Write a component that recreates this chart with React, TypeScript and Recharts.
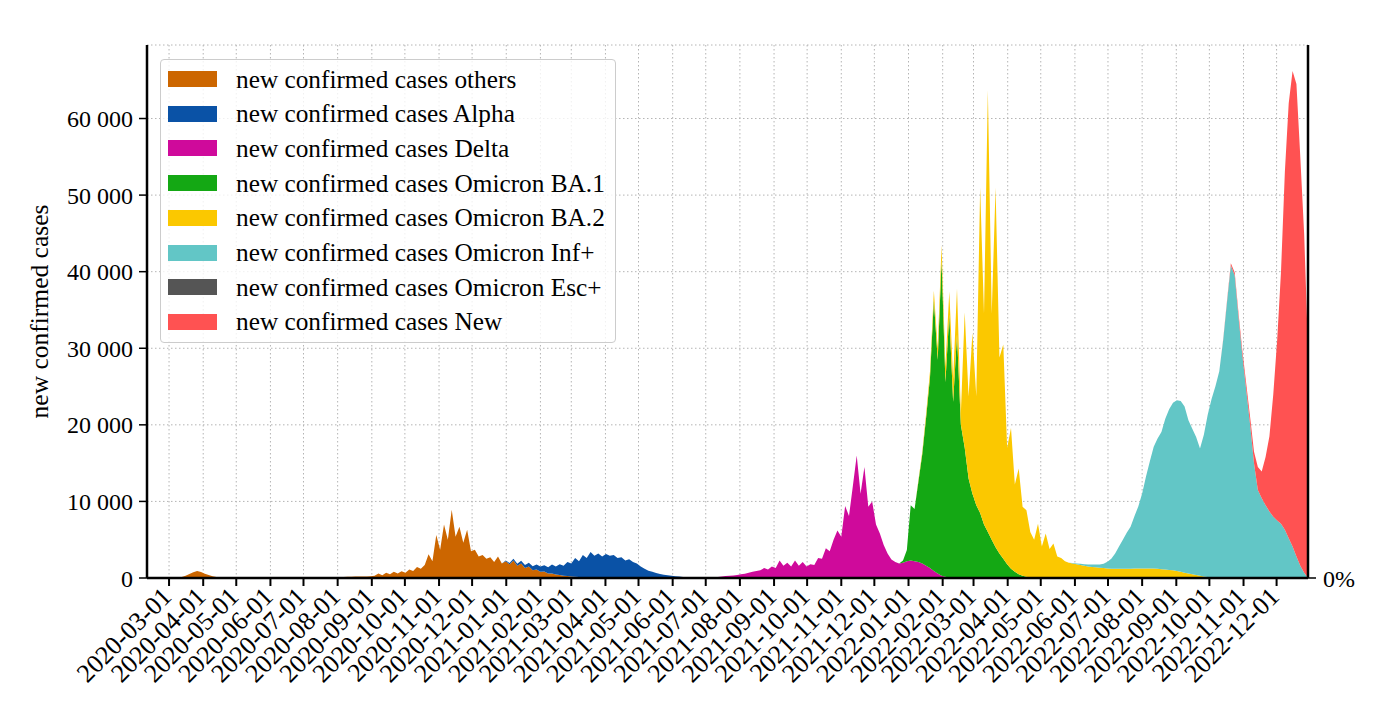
import { AreaChart, Area, XAxis, YAxis, CartesianGrid } from "recharts";

/* ================= DATA ================= */

// samples every 3.5 days starting at FIRST_SAMPLE
const FIRST_SAMPLE = "2020-02-10";
const SAMPLE_DAYS = 3.5;
const SAMPLE_COUNT = 302;

const monthTicks = [
  "2020-03-01", "2020-04-01", "2020-05-01", "2020-06-01", "2020-07-01", "2020-08-01",
  "2020-09-01", "2020-10-01", "2020-11-01", "2020-12-01", "2021-01-01", "2021-02-01",
  "2021-03-01", "2021-04-01", "2021-05-01", "2021-06-01", "2021-07-01", "2021-08-01",
  "2021-09-01", "2021-10-01", "2021-11-01", "2021-12-01", "2022-01-01", "2022-02-01",
  "2022-03-01", "2022-04-01", "2022-05-01", "2022-06-01", "2022-07-01", "2022-08-01",
  "2022-09-01", "2022-10-01", "2022-11-01", "2022-12-01",
];

const countTicks = [0, 10000, 20000, 30000, 40000, 50000, 60000];
const countMax = 69600;

// sample 0 onwards
const othersValues = [
  0, 0, 0, 0, 0, 0, 0, 0,
  30, 120, 300, 520, 760, 920, 780, 560, 380, 230, 140, 90,
  60, 50, 40, 40, 30, 30, 30, 30, 30, 30,
  30, 30, 30, 30, 40, 40, 40, 40, 50, 50, 50, 50, 60, 60, 60, 70, 70, 80, 80, 90,
  100, 120, 150, 150, 180, 180, 200, 200, 220,
  300, 600, 350, 700, 500, 800, 600, 870, 700, 1100, 900, 1440, 1200,
  1700, 3100, 2200, 5600, 3700, 7000, 5000, 8900, 5400, 6700, 4600, 6300, 3500, 3700,
  2800, 3000, 2500, 2700, 2100, 2800, 1900,
  2200, 1800, 2300, 1600, 1900, 1300, 1500, 1000, 1100, 800, 850, 600, 600, 450, 400,
  300, 250, 200, 150, 120, 100, 80, 60, 50, 40, 30, 20, 10,
];

// sample 93 onwards
const alphaValues = [
  100, 150, 200, 250, 350, 400, 500, 550, 650, 700, 800, 800, 1150, 1050, 1400, 1300,
  1850, 1700, 2450, 2080, 2900, 2520, 3340, 2850, 3160, 2770, 3130, 2890, 3000, 2600,
  2700, 2300, 2450, 2100, 1900, 1500, 1200, 950, 800, 650, 520, 430, 370, 300, 240,
  190, 140, 100, 70, 40, 20,
];

// sample 144 onwards
const deltaValues = [
  0, 30, 60, 90, 130, 180, 260, 300, 330, 400, 500, 550, 700, 800, 900, 1000,
  1300, 1100, 1500, 1300, 2300, 1600, 2000, 1500, 2300, 1600, 2100, 1500, 1800, 1700,
  2600, 2500, 3900, 3500, 5000, 6200, 5400, 9400, 8100, 12000, 16000, 11000, 14500,
  9300, 10000, 7000, 5800, 4300, 3200, 2400, 2100, 1900, 2000, 2200, 2300, 2200, 2100,
  1900, 1600, 1300, 900, 600, 300, 150, 50,
];

// sample 196 onwards
const ba1Values = [
  300, 1450, 7200, 6800, 10500, 14300, 19400, 24900, 35400, 27900, 41200, 25450,
  34350, 23000, 31800, 20000, 17000, 13000, 11000, 9500, 8500, 7000, 6000, 5000,
  4000, 3200, 2500, 1800, 1200, 800, 500, 300, 150, 60,
];

// sample 200 onwards
const ba2Values = [
  200, 300, 500, 800, 1200, 1500, 2000, 2000, 3000, 3000, 6000, 1500, 17700, 10700,
  21000, 14200, 42500, 27500, 57700, 29500, 47000, 25600, 28000, 15200, 18400, 11400,
  13800, 9000, 8700, 5940, 5000, 7100, 4100, 5800, 3800, 4500, 2800, 2600, 2200, 2000,
  1900, 1800, 1700, 1600, 1500, 1450, 1400, 1350, 1300, 1250, 1200, 1200, 1200, 1200,
  1200, 1200, 1250, 1250, 1250, 1250, 1250, 1250, 1200, 1150, 1100, 1050, 1000, 900,
  800, 700, 600, 500, 400, 300, 200, 130, 80, 40,
];

// sample 240 onwards
const infValues = [
  50, 100, 150, 200, 250, 300, 350, 400, 550, 880, 1300, 2000, 2900, 3800, 4700, 5500,
  6800, 8100, 9800, 12000, 14000, 15900, 17000, 17900, 19700, 21000, 21900, 22300,
  22300, 21700, 20000, 19000, 18000, 16600, 18500, 21200, 23300, 25000, 27000, 31000,
  36000, 40800, 39500, 34000, 29000, 24500, 20000, 15000, 11500, 10400, 9500, 8700,
  8000, 7500, 7100, 6300, 5200, 4100, 2800, 1600, 700,
];

// nothing visible for this one
const escValues: number[] = [];

// sample 279 onwards
const newValues = [
  100, 200, 300, 400, 500, 600, 800, 1000, 1500, 3000, 3500, 6300, 9800, 16000, 23500,
  32900, 46700, 56800, 62100, 61700, 53400, 44300, 30000,
];

const SERIES = [
  { key: "others", label: "new confirmed cases others", color: "#cc6600", from: 0, values: othersValues },
  { key: "alpha", label: "new confirmed cases Alpha", color: "#0a52a6", from: 93, values: alphaValues },
  { key: "delta", label: "new confirmed cases Delta", color: "#cf0a9b", from: 144, values: deltaValues },
  { key: "ba1", label: "new confirmed cases Omicron BA.1", color: "#14a814", from: 196, values: ba1Values },
  { key: "ba2", label: "new confirmed cases Omicron BA.2", color: "#fbc800", from: 200, values: ba2Values },
  { key: "inf", label: "new confirmed cases Omicron Inf+", color: "#62c6c6", from: 240, values: infValues },
  { key: "esc", label: "new confirmed cases Omicron Esc+", color: "#555555", from: 0, values: escValues },
  { key: "new", label: "new confirmed cases New", color: "#ff5252", from: 279, values: newValues },
];

const DAY_MS = 86400000;
const t0 = Date.parse(FIRST_SAMPLE);

const data = Array.from({ length: SAMPLE_COUNT }, (_, i) => {
  const row: Record<string, number> = { t: t0 + i * SAMPLE_DAYS * DAY_MS };
  SERIES.forEach((s) => {
    row[s.key] = s.values[i - s.from] ?? 0;
  });
  return row;
});

const xTicks = monthTicks.map((d) => Date.parse(d));
const xDomain = [t0, t0 + (SAMPLE_COUNT - 1) * SAMPLE_DAYS * DAY_MS];

/* ================= HELPERS ================= */

const FONT = "'Liberation Serif', 'Times New Roman', serif";

const fmtCount = (v: number) => String(v).replace(/\B(?=(\d{3})+(?!\d))/g, " ");
const fmtDate = (v: number) => new Date(v).toISOString().slice(0, 10);

const DateTick = (props: any) => {
  const { x, y, payload } = props;
  const ax = x + 4;
  const ay = y + 10;
  return (
    <text
      x={ax}
      y={ay}
      transform={`rotate(-45, ${ax}, ${ay})`}
      textAnchor="end"
      fontFamily={FONT}
      fontSize={26}
      fill="#000"
    >
      {fmtDate(payload.value)}
    </text>
  );
};

/* ================= COMPONENT ================= */

export default function App() {
  return (
    <div style={styles.page}>
      <AreaChart
        width={1384}
        height={710}
        data={data}
        margin={{ top: 45, right: 0, bottom: 0, left: 0 }}
      >
        <XAxis
          xAxisId="date"
          dataKey="t"
          type="number"
          scale="time"
          domain={xDomain}
          allowDataOverflow
          ticks={xTicks}
          interval={0}
          height={132}
          tick={<DateTick />}
          tickSize={8}
          tickLine={{ stroke: "#000", strokeWidth: 2 }}
          axisLine={{ stroke: "#000", strokeWidth: 2.5 }}
        />
        <XAxis
          xAxisId="frame"
          dataKey="t"
          type="number"
          orientation="top"
          domain={xDomain}
          allowDataOverflow
          height={0}
          tick={false}
          tickLine={false}
          axisLine={{ stroke: "#000", strokeWidth: 2.5 }}
        />
        <YAxis
          yAxisId="count"
          type="number"
          domain={[0, countMax]}
          allowDataOverflow
          ticks={countTicks}
          interval={0}
          width={147}
          tickFormatter={fmtCount}
          tickSize={8}
          tickMargin={6}
          tick={{ fill: "#000", fontFamily: FONT, fontSize: 24 }}
          tickLine={{ stroke: "#000", strokeWidth: 1.5 }}
          axisLine={{ stroke: "#000", strokeWidth: 2.5 }}
          label={{
            content: (p: any) => {
              const vb = p.viewBox;
              const cy = vb.y + vb.height / 2;
              return (
                <text
                  x={48}
                  y={cy}
                  transform={`rotate(-90, 48, ${cy})`}
                  textAnchor="middle"
                  fontFamily={FONT}
                  fontSize={25.5}
                  fill="#000"
                >
                  new confirmed cases
                </text>
              );
            },
          }}
        />
        <YAxis
          yAxisId="pct"
          orientation="right"
          type="number"
          domain={[0, countMax]}
          allowDataOverflow
          ticks={[0]}
          interval={0}
          width={76}
          tickFormatter={() => "0%"}
          tickSize={8}
          tickMargin={7}
          tick={{ fill: "#000", fontFamily: FONT, fontSize: 24 }}
          tickLine={{ stroke: "#000", strokeWidth: 1.5 }}
          axisLine={{ stroke: "#000", strokeWidth: 2.5 }}
        />

        {SERIES.map((s) => (
          <Area
            key={s.key}
            xAxisId="date"
            yAxisId="count"
            type="linear"
            dataKey={s.key}
            name={s.label}
            stackId="cases"
            stroke="none"
            fill={s.color}
            fillOpacity={1}
            dot={false}
            activeDot={false}
            isAnimationActive={false}
          />
        ))}

        <CartesianGrid
          xAxisId="date"
          yAxisId="count"
          stroke="#b4b4b4"
          strokeWidth={1}
          strokeDasharray="1.5 2.5"
        />
      </AreaChart>

      {/* legend */}
      <div style={styles.legend}>
        {SERIES.map((s, k) => (
          <div key={s.key} style={{ ...styles.row, top: 2 + k * 34.7 }}>
            <span style={{ ...styles.swatch, background: s.color }} />
            <span style={styles.label}>{s.label}</span>
          </div>
        ))}
      </div>
    </div>
  );
}

/* ================= STYLES ================= */

const styles: Record<string, React.CSSProperties> = {
  page: {
    position: "absolute",
    left: 0,
    top: 0,
    width: 1384,
    height: 710,
    background: "#fff",
  },
  legend: {
    position: "absolute",
    left: 160,
    top: 59,
    width: 454,
    height: 282,
    border: "1px solid #cccccc",
    borderRadius: 4,
    background: "rgba(255,255,255,0.8)",
  },
  row: {
    position: "absolute",
    left: 7,
    height: 34,
    display: "flex",
    alignItems: "center",
  },
  swatch: {
    display: "inline-block",
    width: 49,
    height: 16,
  },
  label: {
    marginLeft: 19,
    fontFamily: FONT,
    fontSize: 25.3,
    color: "#000",
    whiteSpace: "nowrap",
  },
};
